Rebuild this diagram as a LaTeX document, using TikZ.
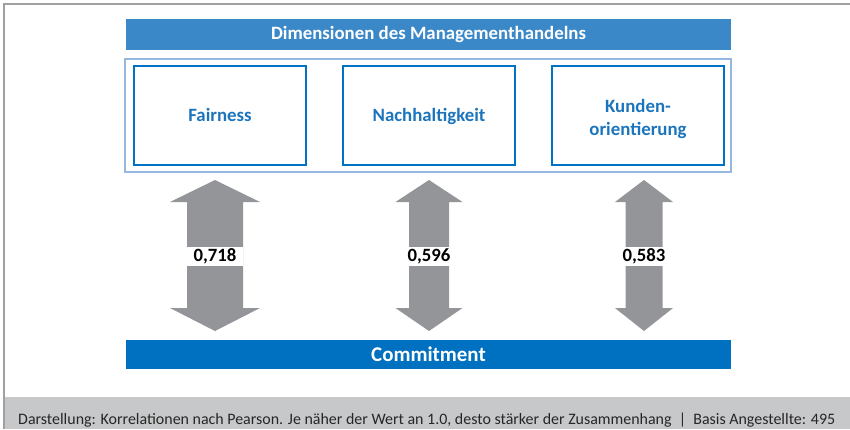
\documentclass[tikz,border=0pt]{standalone}
\usepackage{fontspec}
\setmainfont{Carlito}
\definecolor{titleblue}{RGB}{59,136,200}
\definecolor{barblue}{RGB}{0,112,192}
\definecolor{boxblue}{RGB}{0,114,198}
\definecolor{textblue}{RGB}{28,117,188}
\definecolor{frameblue}{RGB}{149,185,225}
\definecolor{arrowgray}{RGB}{147,149,152}
\definecolor{footgray}{RGB}{199,200,202}
\definecolor{linegray}{RGB}{160,160,160}
\tikzset{
  titlebar/.style={fill=titleblue, text=white, font=\fontsize{18.9}{20}\selectfont\bfseries,
    minimum width=605bp, minimum height=31bp, inner sep=0pt},
  commitbar/.style={fill=barblue, text=white, font=\fontsize{21}{23}\selectfont\bfseries,
    minimum width=605bp, minimum height=29bp, inner sep=0pt},
  outerframe/.style={draw=frameblue, line width=1.5bp, minimum width=606bp, minimum height=113bp, inner sep=0pt},
  dimbox/.style={draw=boxblue, line width=1.5bp, text=textblue, align=center,
    font=\fontsize{18.9}{23}\selectfont\bfseries, minimum width=172bp, minimum height=99bp, inner sep=0pt},
  oneline/.style={text height=12.5bp, text depth=0pt},
  corrlabel/.style={fill=white, text=black, font=\fontsize{18.8}{20}\selectfont\bfseries,
    minimum height=19bp, inner sep=0pt},
  bigarrow/.style={fill=arrowgray}
}
\begin{document}
\begin{tikzpicture}[x=1bp,y=-1bp]
\useasboundingbox (0,0) rectangle (850,429);
\fill[footgray] (4,397) rectangle (850,429);
\draw[linegray, line width=2bp] (4,429) -- (4,4) -- (850,4);
\node[anchor=base west, font=\fontsize{16}{18}\selectfont, text=black!85, inner sep=0pt] (foot) at (18,424.5)
  {Darstellung: Korrelationen nach Pearson. Je näher der Wert an 1.0, desto stärker der Zusammenhang\ \ |\ \ Basis Angestellte: 495};

\node[titlebar] (title) at (428.5,34.5) {Dimensionen des Managementhandelns};
\node[outerframe] (frame) at (428,115.5) {};
\node[dimbox, oneline] (fair) at (220,115.5) {Fairness};
\node[dimbox, oneline] (nach) at (429,115.5) {Nachhaltigkeit};
\node[dimbox] (kund) at (638,115.5) {\raisebox{-3.5bp}[\height][\depth]{\begin{tabular}{@{}c@{}}Kunden-\\orientierung\end{tabular}}};
\node[commitbar] (commit) at (428.5,354.5) {Commitment};

% double arrows: center x, head half width, shaft half width, label
\foreach \cx/\hh/\sh/\val/\nm in {215/45/28/{0,718}/a1, 429/33.5/20/{0,596}/a2, 644/29/18.5/{0,583}/a3}{
  \coordinate (\nm t) at (\cx,180);
  \coordinate (\nm b) at (\cx,331);
  \fill[bigarrow] (\nm t) -- ++(\hh,22) -- ++(\sh-\hh,0) -- ++(0,106) -- ++(\hh-\sh,0)
     -- (\nm b) -- ++(-\hh,-23) -- ++(\hh-\sh,0) -- ++(0,-106) -- ++(\sh-\hh,0) -- cycle;
  \node[corrlabel, minimum width=2*\sh*1bp] (\nm l) at (\cx,256.5) {\val};
}
\end{tikzpicture}
\end{document}
